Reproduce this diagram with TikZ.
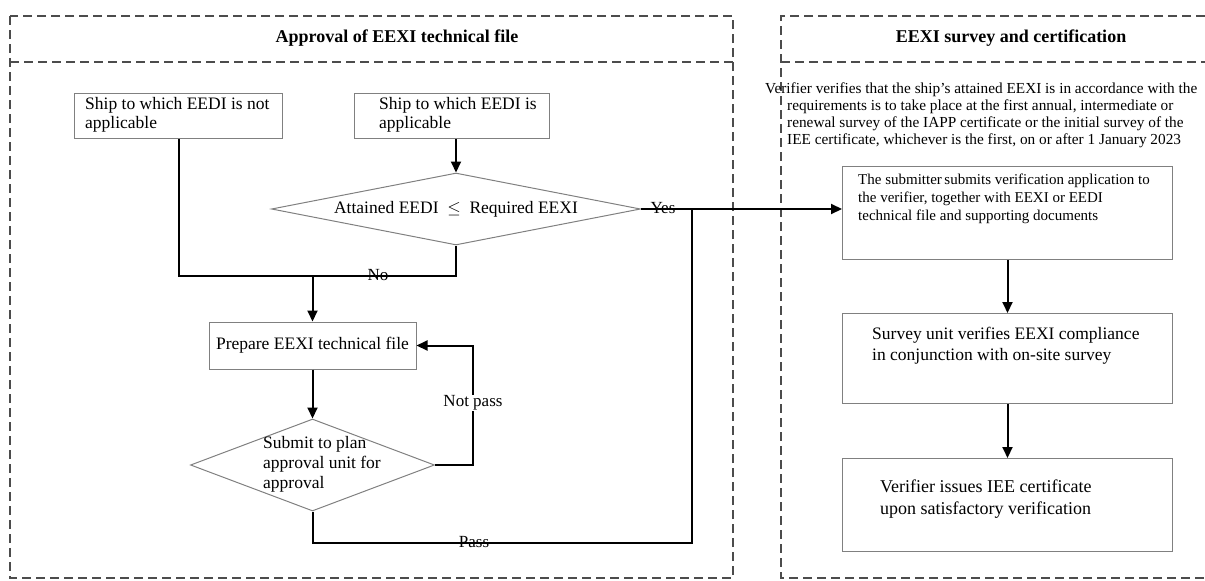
\documentclass[tikz,border=0pt]{standalone}
\usepackage{fontspec}
\setmainfont{Liberation Serif}
\usetikzlibrary{shapes.geometric,arrows.meta}
\begin{document}
\begin{tikzpicture}[x=1pt,y=-1pt,
  font=\fontsize{17.5}{19.5}\selectfont,
  panel/.style={draw=black!70, line width=1.2pt, dash pattern=on 9pt off 5pt},
  box/.style={draw=black!50, line width=1pt, inner sep=0pt, anchor=north west},
  dia/.style={draw=black!50, line width=1pt, diamond, inner sep=0pt},
  txt/.style={inner sep=0pt, align=left},
  conn/.style={draw=black, line width=2pt},
  arr/.style={conn, -{Triangle[length=11pt,width=10pt]}},
  ttl/.style={font=\bfseries\fontsize{18}{20}\selectfont},
  lbl/.style={inner sep=1pt, anchor=base, font=\fontsize{17}{19}\selectfont}]
\useasboundingbox (0,0) rectangle (1205,581);

% panels
\draw[panel] (10,16) rectangle (733,578);
\draw[panel] (10,62) -- (733,62);
\draw[panel] (1205,16) -- (781,16) -- (781,578) -- (1205,578);
\draw[panel] (781,62) -- (1205,62);

\node[ttl] (T1) at (397,38) {Approval of EEXI technical file};
\node[ttl] (T2) at (1011,38) {EEXI survey and certification};

% left flow
\node[box, minimum width=208pt, minimum height=45pt] (A) at (74,93) {};
\node[txt, anchor=west] (tA) at (85,115) {Ship to which EEDI is not\\applicable};
\node[box, minimum width=195pt, minimum height=45pt] (B) at (354,93) {};
\node[txt, anchor=west] (tB) at (379,115) {Ship to which EEDI is\\applicable};

\node[dia, minimum width=369pt, minimum height=72pt] (D1) at (456,209) {};
\node (tD1) at (456,209) {Attained EEDI\ \ $\leq$\ \ Required EEXI};

\node[box, anchor=center, minimum width=207pt, minimum height=47pt] (P) at (312.5,345.5) {Prepare EEXI technical file};

\node[dia, minimum width=244pt, minimum height=92pt] (D2) at (312.5,465) {};
\node[txt, anchor=west, font=\fontsize{17.5}{20}\selectfont] (tD2) at (263,464) {Submit to plan\\approval unit for\\approval};

% right flow
\node[txt, anchor=north west, font=\fontsize{15.3}{16.7}\selectfont] (para) at (787,83)
 {\hspace*{-22pt}Verifier verifies that the ship’s attained EEXI is in accordance with the\\
  requirements is to take place at the first annual, intermediate or\\
  renewal survey of the IAPP certificate or the initial survey of the\\
  IEE certificate, whichever is the first, on or after 1 January 2023};

\node[box, minimum width=330pt, minimum height=93pt] (R1) at (842,166) {};
\node[txt, anchor=west, font=\fontsize{15}{18}\selectfont] (tR1) at (858,199)
 {The submitter\,submits verification application to\\the verifier, together with EEXI or EEDI\\technical file and supporting documents};

\node[box, minimum width=330pt, minimum height=90pt] (R2) at (842,313) {};
\node[txt, anchor=west, font=\fontsize{17.5}{21.5}\selectfont] (tR2) at (872,345.5)
 {Survey unit verifies EEXI compliance\\in conjunction with on-site survey};

\node[box, minimum width=330pt, minimum height=93pt] (R3) at (842,458) {};
\node[txt, anchor=west, font=\fontsize{18}{21.5}\selectfont] (tR3) at (880,499)
 {Verifier issues IEE certificate\\upon satisfactory verification};

% connectors
\coordinate (nojoin) at (312.5,276);
\coordinate (npx) at (473,0);
\coordinate (passc) at (692,543);

\draw[arr] (D1.north |- B.south) -- (D1.north);
\draw[conn] (A.south) -- (A.south |- nojoin) -- (D1.south |- nojoin) -- (D1.south);
\draw[arr] (nojoin) -- (P.north);
\draw[arr] (P.south) -- (D2.north);
\draw[arr] (D2.east) -- (D2.east -| npx) -- (P.east -| npx) -- (P.east);
\draw[conn] (D2.south) |- (passc) -- (passc |- D1.east);
\draw[arr] (D1.east) -- (R1.west |- D1.east);
\draw[arr] (R1.south) -- (R2.north);
\draw[arr] (R2.south) -- (R3.north);

\node[lbl] (lNo) at (378,280.5) {No};
\node[lbl] (lYes) at (663,213.5) {Yes};
\node[lbl] (lPass) at (474,547.5) {Pass};
\node[lbl, fill=white, anchor=center] (lNot) at (473,403) {Not pass};
\end{tikzpicture}
\end{document}
